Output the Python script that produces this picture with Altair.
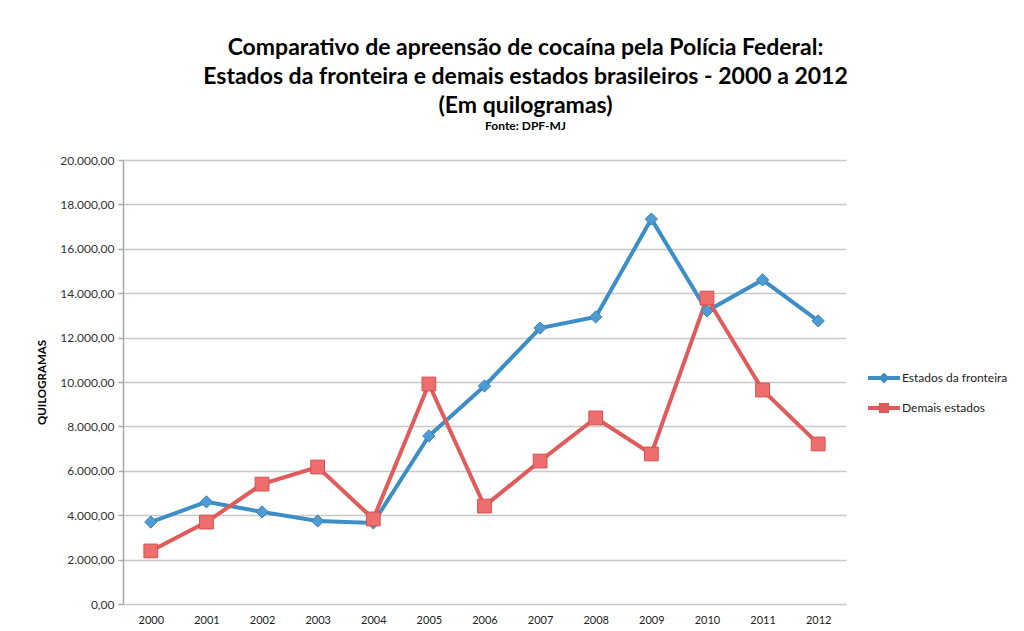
import altair as alt
import pandas as pd

anos = [str(a) for a in range(2000, 2013)]
fronteira = [3690, 4600, 4150, 3740, 3650, 7570, 9820, 12430, 12930, 17340, 13200, 14600, 12750]
demais = [2390, 3690, 5400, 6170, 3830, 9910, 4410, 6440, 8380, 6760, 13780, 9640, 7210]
series = ["Estados da fronteira", "Demais estados"]

rows = []
for i, a in enumerate(anos):
    rows.append({"ano": a, "serie": series[0], "valor": fronteira[i]})
    rows.append({"ano": a, "serie": series[1], "valor": demais[i]})
df = pd.DataFrame(rows)

line_colors = ["#3d8ec6", "#e05c5c"]
fill_colors = ["#4f9bd3", "#ee6e6e"]
stroke_colors = ["#3a84ba", "#d65050"]
FONT = "Lato"

x_enc = alt.X("ano:N", scale=alt.Scale(type="point", padding=0.5),
              axis=alt.Axis(title=None, labelAngle=0, ticks=False, domain=False,
                            labelFont=FONT, labelFontSize=11, labelColor="#222",
                            labelPadding=10, grid=False))
y_enc = alt.Y("valor:Q", scale=alt.Scale(domain=[0, 20000], nice=False),
              axis=alt.Axis(title="QUILOGRAMAS", values=list(range(0, 20001, 2000)),
                            format=",.2f", labelFont=FONT, labelFontSize=12,
                            labelColor="#333", titleFont=FONT, titleFontSize=11.5,
                            titleFontWeight="bold", titleColor="#000", titlePadding=12,
                            domainColor="#a8a8a8", domainWidth=1.5, tickColor="#a8a8a8",
                            tickSize=5, tickWidth=1.5, gridColor="#c8c8c8", gridWidth=1.5,
                            labelPadding=4))

base = alt.Chart(df).encode(x=x_enc, y=y_enc)

lines = base.mark_line(strokeWidth=4).encode(
    color=alt.Color("serie:N", scale=alt.Scale(domain=series, range=line_colors), legend=None)
)

points = base.mark_point(filled=True, opacity=1, strokeWidth=1).encode(
    shape=alt.Shape("serie:N", scale=alt.Scale(domain=series, range=["diamond", "square"]), legend=None),
    fill=alt.Fill("serie:N", scale=alt.Scale(domain=series, range=fill_colors), legend=None),
    stroke=alt.Stroke("serie:N", scale=alt.Scale(domain=series, range=stroke_colors), legend=None),
    size=alt.Size("serie:N", scale=alt.Scale(domain=series, range=[150, 190]), legend=None),
)

leg_paths = [
    "M-1,-0.12H1V0.12H-1Z M0,-0.34L0.34,0L0,0.34L-0.34,0Z",
    "M-1,-0.12H1V0.12H-1Z M-0.32,-0.32H0.32V0.32H-0.32Z",
]
legend_layer = base.mark_point(filled=True, size=1024, opacity=1).encode(
    color=alt.Color("serie:N", scale=alt.Scale(domain=series, range=line_colors),
                    legend=alt.Legend(title=None, orient="none", legendX=745, legendY=202,
                                      symbolSize=1024, symbolStrokeWidth=0,
                                      labelFont=FONT, labelFontSize=12, labelColor="#222",
                                      labelOffset=2, rowPadding=8)),
    shape=alt.Shape("serie:N", scale=alt.Scale(domain=series, range=leg_paths)),
).transform_filter("datum.valor < 0")

chart = alt.layer(lines, points, legend_layer).resolve_scale(
    color="independent", shape="independent"
).properties(
    width=723, height=444,
    autosize=alt.AutoSizeParams(type="none"),
    padding={"left": 115, "top": 152, "right": 170, "bottom": 20},
    title=alt.TitleParams(
        text=["Comparativo de apreensão de cocaína pela Polícia Federal:",
              "Estados da fronteira e demais estados brasileiros - 2000 a 2012",
              "(Em quilogramas)"],
        subtitle="Fonte: DPF-MJ",
        font=FONT, fontSize=23, fontWeight="bold", lineHeight=29, color="#000",
        subtitleFont=FONT, subtitleFontSize=12, subtitleFontWeight="bold",
        subtitleColor="#000", subtitlePadding=3,
        anchor="middle", dx=41, offset=22,
    ),
).configure(
    background="white",
    locale={"number": {"decimal": ",", "thousands": ".", "grouping": [3], "currency": ["R$", ""]}},
).configure_view(stroke="transparent", strokeWidth=0)

chart.save("out.html", embed_options={"renderer": "svg", "actions": False})
